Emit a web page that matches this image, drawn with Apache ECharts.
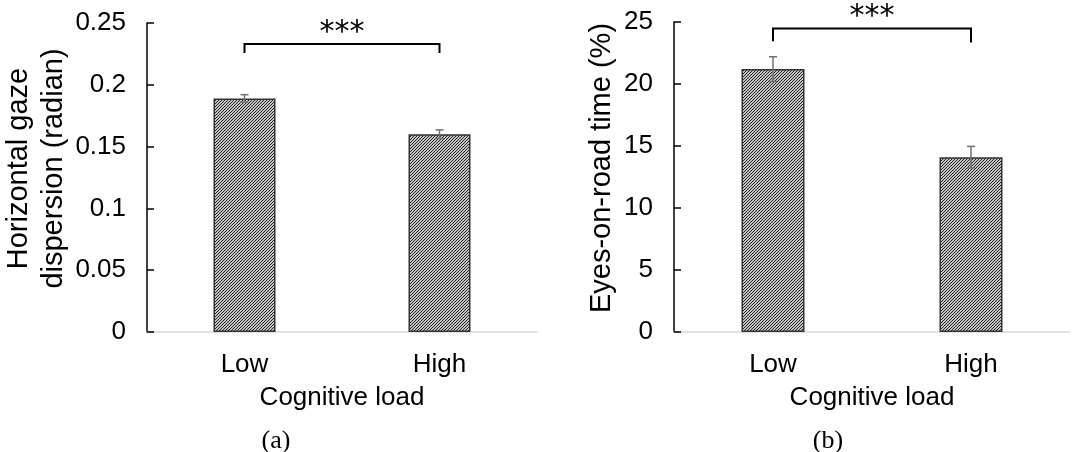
<!DOCTYPE html>
<html>
<head>
<meta charset="utf-8">
<script src="https://cdn.jsdelivr.net/npm/echarts@6/dist/echarts.min.js"></script>
<style>
html,body{margin:0;padding:0;background:#fff;}
#chart{width:1089px;height:452px;}
</style>
</head>
<body>
<div id="chart"></div>
<script>
// ---- data ----
const categories = ['Low', 'High'];
const dispersionValues = [0.189, 0.160];
const dispersionErrors = [0.003, 0.0035];
const eyesOnRoadValues = [21.2, 14.1];
const eyesOnRoadErrors = [1.0, 0.87];
const ticksA = [0, 0.05, 0.1, 0.15, 0.2, 0.25];
const ticksB = [0, 5, 10, 15, 20, 25];
const bracketA = [0.233, 0.2257, 0.2257];   // top, left end, right end
const bracketB = [24.47, 23.45, 23.35];
const sigLabel = '***';
const panelLabels = ['(a)', '(b)'];
const xTitle = 'Cognitive load';
const yTitleA = 'Horizontal gaze\ndispersion (radian)';
const yTitleB = 'Eyes-on-road time (%)';

// ---- hatch pattern ----
function makeHatch() {
  const c = document.createElement('canvas');
  c.width = 6; c.height = 6;
  const ctx = c.getContext('2d');
  const img = ctx.createImageData(6, 6);
  for (let y = 0; y < 6; y++) for (let x = 0; x < 6; x++) {
    const i = (y * 6 + x) * 4;
    const dark = ((x + y) % 3) === 0;
    const v = dark ? 40 : 195;
    img.data[i] = v; img.data[i+1] = v; img.data[i+2] = v; img.data[i+3] = 255;
  }
  ctx.putImageData(img, 0, 0);
  return c;
}
const hatch = { image: makeHatch(), repeat: 'repeat' };

const font = "'Liberation Sans', Arial, sans-serif";
const serif = "'Liberation Serif', 'DejaVu Serif', serif";

function errRender(errs) {
  return function (params, api) {
    const i = api.value(0), v = api.value(1), e = errs[params.dataIndex];
    const top = api.coord([i, v + e]);
    const bot = api.coord([i, v - e]);
    const w = 4;
    const st = { stroke: '#707070', lineWidth: 1.5 };
    return {
      type: 'group',
      children: [
        { type: 'line', shape: { x1: top[0], y1: top[1], x2: bot[0], y2: bot[1] }, style: st },
        { type: 'line', shape: { x1: top[0] - w, y1: top[1], x2: top[0] + w, y2: top[1] }, style: st },
        { type: 'line', shape: { x1: bot[0] - w, y1: bot[1], x2: bot[0] + w, y2: bot[1] }, style: st }
      ]
    };
  };
}

function bracketRender(params, api) {
  const t = api.value(0), l = api.value(1), r = api.value(2);
  const pl = api.coord([0, t]), pr = api.coord([1, t]);
  const el = api.coord([0, l]), er = api.coord([1, r]);
  const st = { stroke: '#000', lineWidth: 2, fill: null };
  return {
    type: 'group',
    children: [
      { type: 'polyline', shape: { points: [[el[0], el[1]], [pl[0], pl[1]], [pr[0], pr[1]], [er[0], er[1]]] }, style: st },
      { type: 'text', x: (pl[0] + pr[0]) / 2, y: pl[1] + 4,
        style: { text: sigLabel, font: "30px 'DejaVu Sans', sans-serif", fill: '#000', align: 'center', verticalAlign: 'bottom' } }
    ]
  };
}

function yAxis(idx, ticks, name, gap, pad) {
  return {
    type: 'value', gridIndex: idx, min: ticks[0], max: ticks[ticks.length - 1],
    interval: ticks[1] - ticks[0],
    axisLine: { show: true, lineStyle: { color: '#000', width: 1.5 } },
    axisTick: { show: true, inside: true, length: 7, lineStyle: { color: '#000', width: 1.5 } },
    axisLabel: { color: '#000', fontSize: 26, fontFamily: font, margin: 21 },
    splitLine: { show: false },
    name: name, nameLocation: 'middle', nameRotate: 90, nameGap: gap,
    nameTextStyle: { color: '#000', fontSize: 29, fontFamily: font, lineHeight: 35, padding: pad }
  };
}
function xAxis(idx) {
  return {
    type: 'category', gridIndex: idx, data: categories,
    axisLine: { show: true, lineStyle: { color: '#d9d9d9', width: 1.5 } },
    axisTick: { show: false },
    axisLabel: { color: '#000', fontSize: 26, fontFamily: font, margin: 20 },
    name: xTitle, nameLocation: 'middle', nameGap: 53,
    nameTextStyle: { color: '#000', fontSize: 26, fontFamily: font }
  };
}

const chart = echarts.init(document.getElementById('chart'), null, { renderer: 'canvas' });
chart.setOption({
  animation: false,
  backgroundColor: '#fff',
  title: [
    { text: panelLabels[0], left: 271, top: 423, textAlign: 'center',
      textStyle: { fontFamily: serif, fontSize: 26, fontWeight: 'normal', color: '#000' } },
    { text: panelLabels[1], left: 823, top: 423, textAlign: 'center',
      textStyle: { fontFamily: serif, fontSize: 26, fontWeight: 'normal', color: '#000' } }
  ],
  grid: [
    { left: 147, top: 23, width: 390, bottom: 120 },
    { left: 674, top: 22, width: 396, bottom: 120 }
  ],
  xAxis: [xAxis(0), xAxis(1)],
  yAxis: [
    yAxis(0, ticksA, yTitleA, 73, [0, 0, 0, 18]),
    yAxis(1, ticksB, yTitleB, 55, [0, 0, 0, 18])
  ],
  series: [
    { type: 'bar', xAxisIndex: 0, yAxisIndex: 0, data: dispersionValues, barWidth: 62,
      itemStyle: { color: hatch, borderColor: '#333', borderWidth: 1.5 } },
    { type: 'bar', xAxisIndex: 1, yAxisIndex: 1, data: eyesOnRoadValues, barWidth: 63,
      itemStyle: { color: hatch, borderColor: '#333', borderWidth: 1.5 } },
    { type: 'custom', xAxisIndex: 0, yAxisIndex: 0, renderItem: errRender(dispersionErrors),
      data: dispersionValues.map((v, i) => [i, v]), z: 5 },
    { type: 'custom', xAxisIndex: 1, yAxisIndex: 1, renderItem: errRender(eyesOnRoadErrors),
      data: eyesOnRoadValues.map((v, i) => [i, v]), z: 5 },
    { type: 'custom', xAxisIndex: 0, yAxisIndex: 0, renderItem: bracketRender, data: [bracketA], clip: false, z: 6 },
    { type: 'custom', xAxisIndex: 1, yAxisIndex: 1, renderItem: bracketRender, data: [bracketB], clip: false, z: 6 }
  ]
});
</script>
</body>
</html>
